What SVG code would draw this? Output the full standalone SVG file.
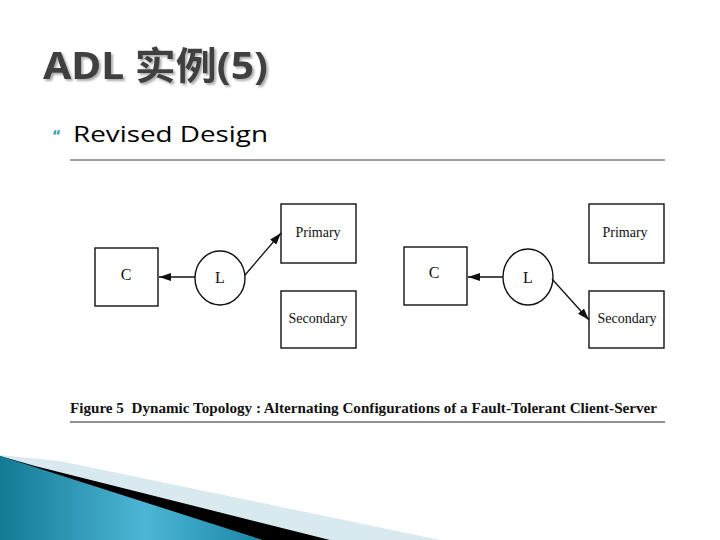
<svg xmlns="http://www.w3.org/2000/svg" width="720" height="540" viewBox="0 0 720 540">
<defs>
<style>
.box{fill:#fff;stroke:#111;stroke-width:1.4}
.lbl{font-family:"Liberation Serif",serif;fill:#111;text-anchor:middle}
.conn{stroke:#111;stroke-width:1.3;fill:none}
</style>
<filter id="shadow" x="-5%" y="-20%" width="110%" height="140%">
<feDropShadow dx="2" dy="2" stdDeviation="0.8" flood-color="#999" flood-opacity="0.8"/>
</filter>
<marker id="ah" viewBox="0 0 12 8" refX="12" refY="4" markerWidth="12" markerHeight="8" markerUnits="userSpaceOnUse" orient="auto">
<path d="M0,0 L12,4 L0,8 Z" fill="#111"/>
</marker>
<linearGradient id="teal" x1="0" y1="0" x2="1" y2="0">
<stop offset="0" stop-color="#137a94"/>
<stop offset="0.55" stop-color="#4db6d6"/>
<stop offset="1" stop-color="#1a86a6"/>
</linearGradient>
</defs>
<rect width="720" height="540" fill="#fff"/>
<g id="title">
<text x="43" y="79" filter="url(#shadow)" font-family="'Noto Sans','Noto Sans CJK SC',sans-serif" font-weight="bold" font-size="38" fill="#404040" textLength="225" lengthAdjust="spacingAndGlyphs">ADL 实例(5)</text>
</g>
<g id="bullet">
<text x="52" y="140" font-family="'DejaVu Sans',sans-serif" font-weight="bold" font-size="14" fill="#3a9ab5">“</text>
<text x="73" y="142" font-family="'Open Sans',sans-serif" font-size="22" fill="#000" textLength="195" lengthAdjust="spacingAndGlyphs">Revised Design</text>
</g>
<line x1="70" y1="160" x2="665" y2="160" stroke="#444" stroke-width="1"/>
<g id="left-C"><rect class="box" x="95" y="248" width="63" height="58"/><text class="lbl" x="126" y="280" font-size="16">C</text></g>
<g id="left-L"><ellipse class="box" cx="220" cy="278" rx="25" ry="27"/><text class="lbl" x="220" y="283" font-size="16">L</text></g>
<g id="left-Primary"><rect class="box" x="281" y="204" width="75" height="59"/><text class="lbl" x="318" y="237" font-size="14">Primary</text></g>
<g id="left-Secondary"><rect class="box" x="281" y="291" width="75" height="57"/><text class="lbl" x="318" y="323" font-size="14">Secondary</text></g>
<g id="right-C"><rect class="box" x="404" y="247" width="63" height="58"/><text class="lbl" x="434" y="278" font-size="16">C</text></g>
<g id="right-L"><ellipse class="box" cx="528" cy="277" rx="25" ry="28"/><text class="lbl" x="528" y="283" font-size="16">L</text></g>
<g id="right-Primary"><rect class="box" x="589" y="204" width="75" height="59"/><text class="lbl" x="625" y="237" font-size="14">Primary</text></g>
<g id="right-Secondary"><rect class="box" x="589" y="291" width="75" height="57"/><text class="lbl" x="627" y="323" font-size="14">Secondary</text></g>
<g id="connectors">
<line class="conn" x1="195" y1="277" x2="159" y2="277" stroke-width="2" marker-end="url(#ah)"/>
<line class="conn" x1="245" y1="275" x2="281" y2="233" marker-end="url(#ah)"/>
<line class="conn" x1="503" y1="277" x2="468" y2="277" stroke-width="2" marker-end="url(#ah)"/>
<line class="conn" x1="552" y1="279" x2="589" y2="320" marker-end="url(#ah)"/>
</g>
<g id="caption">
<text x="70" y="413" font-family="'Liberation Serif',serif" font-weight="bold" font-size="15" fill="#111" textLength="587" lengthAdjust="spacingAndGlyphs" xml:space="preserve">Figure 5  Dynamic Topology : Alternating Configurations of a Fault-Tolerant Client-Server</text>
<line x1="70" y1="422" x2="665" y2="422" stroke="#222" stroke-width="1.2"/>
</g>
<g id="decoration">
<polygon points="0,455 60,461 440,540 0,540" fill="#d8e9f0"/>
<polygon points="0,456 35,466 330,540 0,540" fill="#000"/>
<polygon points="0,456 263,540 0,540" fill="url(#teal)"/>
</g>
</svg>
